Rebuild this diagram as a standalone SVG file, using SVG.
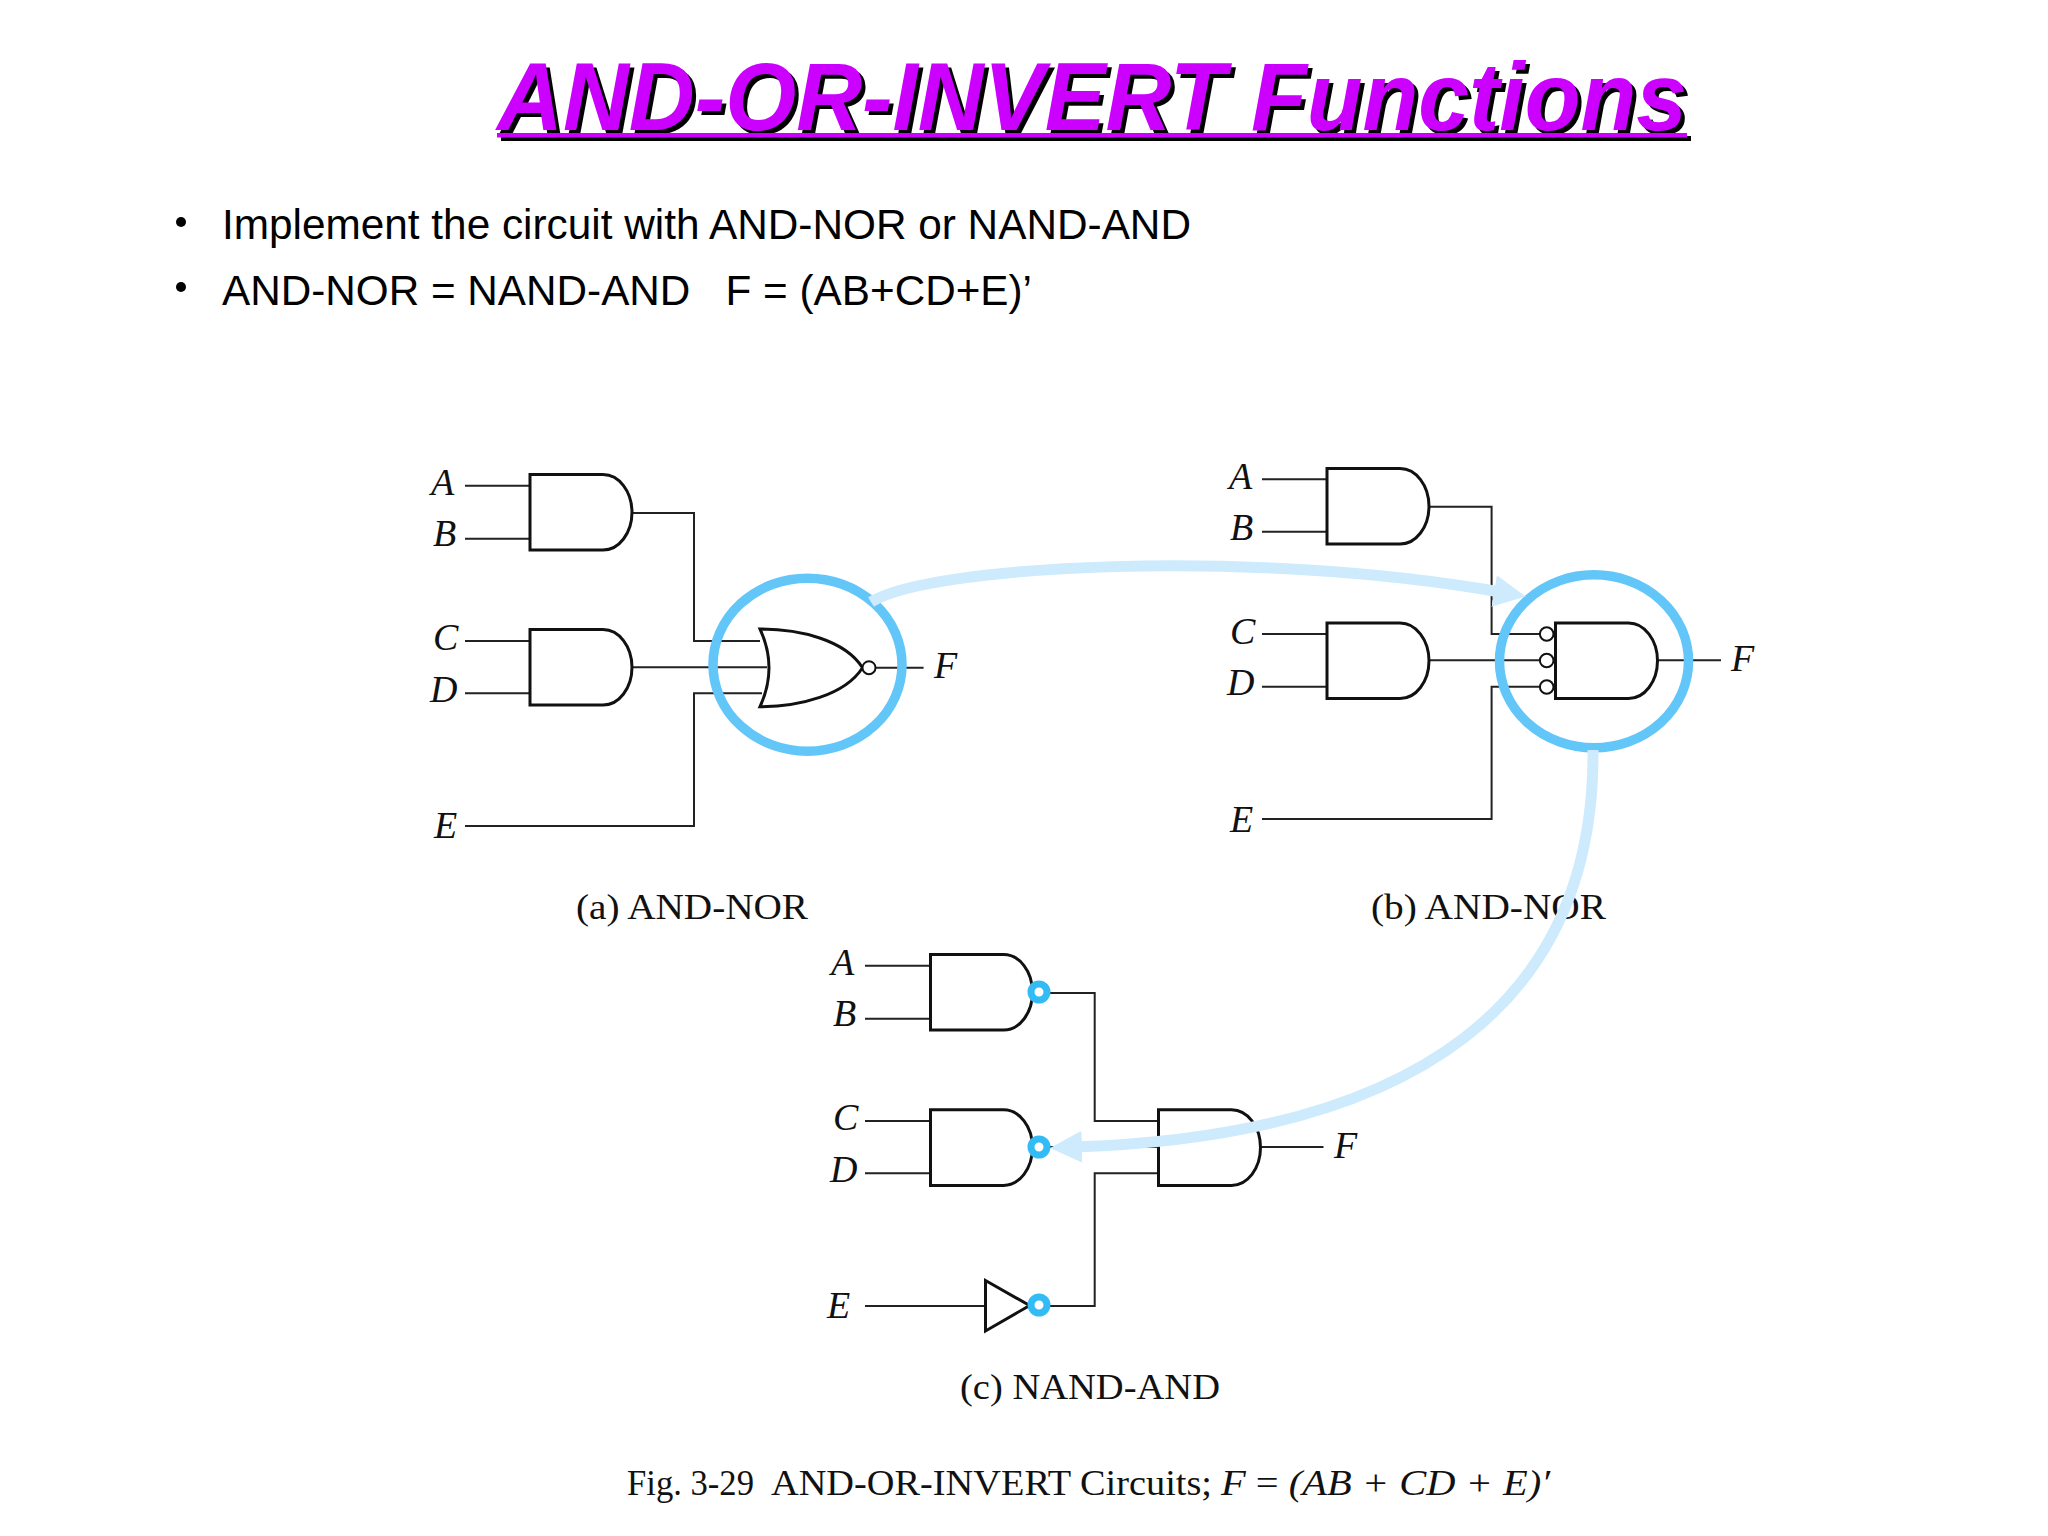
<svg xmlns="http://www.w3.org/2000/svg" width="2048" height="1536" viewBox="0 0 2048 1536">
<style>
.title{font-family:"Liberation Sans",Arial,sans-serif;font-size:96px;font-weight:bold;font-style:italic}
.body{font-family:"Liberation Sans",Arial,sans-serif;font-size:42px;fill:#000;white-space:pre}
.lbl{font-family:"Liberation Serif","Times New Roman",serif;font-size:38px;font-style:italic;fill:#111}
.cap{font-family:"Liberation Serif","Times New Roman",serif;font-size:36px;fill:#111;white-space:pre}
.w{fill:none;stroke:#222;stroke-width:2}
.g{fill:none;stroke:#111;stroke-width:3;stroke-linejoin:miter}
.b{fill:#fff;stroke:#111;stroke-width:2}
.nb{fill:#fff;stroke:#33bbf5;stroke-width:7}
.ring{fill:none;stroke:#62c6f9;stroke-width:9.5}
.arr{fill:none;stroke:#cdebfd;stroke-width:11}
</style>
<defs>
<path id="and" class="g" d="M0 0H73A29 37.8 0 0 1 73 75.6H0Z"/>
<marker id="head" markerUnits="userSpaceOnUse" markerWidth="36" markerHeight="36" refX="6" refY="18" orient="auto"><path d="M0 2L32 18L0 34Z" fill="#cdebfd"/></marker>
</defs>
<rect width="2048" height="1536" fill="#fff"/>
<g id="title">
<text class="title" x="501" y="133.500" fill="#000" textLength="1190" lengthAdjust="spacingAndGlyphs">AND-OR-INVERT Functions</text>
<rect x="501" y="136" width="1190" height="5" fill="#000"/>
<text class="title" x="497" y="130" fill="#cc00ff" textLength="1190" lengthAdjust="spacingAndGlyphs">AND-OR-INVERT Functions</text>
<rect x="497" y="133" width="1190" height="4.500" fill="#cc00ff"/>
</g>
<g id="bullets">
<circle cx="181" cy="222" r="5"/>
<text class="body" x="222" y="239" textLength="969" lengthAdjust="spacingAndGlyphs">Implement the circuit with AND-NOR or NAND-AND</text>
<circle cx="181" cy="287" r="5"/>
<text class="body" x="222" y="305" textLength="810" lengthAdjust="spacingAndGlyphs">AND-NOR = NAND-AND   F = (AB+CD+E)’</text>
</g>
<g id="connectors">
<path class="w" d="M465 485.700H530M465 538.700H530M632 513H694V641H760M465 641H530M465 693.300H530M632 667.300H767M465 826H694V693.300H762M876 667.700H923.600"/>
<path class="w" d="M1262 479.300H1327M1262 531.700H1327M1429 506.700H1491.600V634H1540M1262 634H1327M1262 686.700H1327M1429 660.300H1540M1262 819H1491.600V686.700H1540M1657 660.300H1721"/>
<path class="w" d="M865 965.700H930M865 1018.700H930M1050 993H1094.700V1121H1158.500M865 1121H930M865 1173.300H930M1050 1147H1158.500M1050 1306H1094.700V1173.300H1158.500M865 1306H985M1260 1147H1323.500"/>
</g>
<g id="nodes">
<g id="a-and1"><use href="#and" x="530" y="474.500"/></g>
<g id="a-and2"><use href="#and" x="530" y="629.500"/></g>
<g id="a-nor"><path class="g" d="M760 629C800 629 845 640 862.500 667.700C845 695 800 706.700 760 706.700Q778 667.700 760 629Z"/><circle class="b" cx="869" cy="667.700" r="6.500"/></g>
<g id="b-and1"><use href="#and" x="1327" y="468.500"/></g>
<g id="b-and2"><use href="#and" x="1327" y="623"/></g>
<g id="b-and3"><use href="#and" x="1555.500" y="623"/><circle class="b" cx="1546.700" cy="634" r="6.800"/><circle class="b" cx="1546.700" cy="660.500" r="6.800"/><circle class="b" cx="1546.700" cy="687" r="6.800"/></g>
<g id="c-nand1"><use href="#and" x="930.500" y="954.500"/><circle class="nb" cx="1039" cy="992" r="8"/></g>
<g id="c-nand2"><use href="#and" x="930.500" y="1109.800"/><circle class="nb" cx="1039" cy="1147" r="8"/></g>
<g id="c-inv"><path class="g" d="M985.500 1280.500L1029.600 1305.500L985.500 1331Z"/><circle class="nb" cx="1039" cy="1305" r="8"/></g>
<g id="c-and"><use href="#and" x="1158.500" y="1109.800"/></g>
</g>
<g id="labels">
<text class="lbl" x="431" y="495">A</text><text class="lbl" x="433" y="546">B</text><text class="lbl" x="433" y="650">C</text><text class="lbl" x="430" y="702">D</text><text class="lbl" x="434" y="838">E</text><text class="lbl" x="934" y="678">F</text>
<text class="lbl" x="1229" y="489">A</text><text class="lbl" x="1230" y="540">B</text><text class="lbl" x="1230" y="644">C</text><text class="lbl" x="1227" y="695">D</text><text class="lbl" x="1230" y="832">E</text><text class="lbl" x="1731" y="671">F</text>
<text class="lbl" x="831" y="975">A</text><text class="lbl" x="833" y="1026">B</text><text class="lbl" x="833" y="1130">C</text><text class="lbl" x="830" y="1182">D</text><text class="lbl" x="827" y="1318">E</text><text class="lbl" x="1334" y="1158">F</text>
<text class="cap" x="576" y="919" textLength="232" lengthAdjust="spacingAndGlyphs">(a) AND-NOR</text>
<text class="cap" x="1371" y="919" textLength="235" lengthAdjust="spacingAndGlyphs">(b) AND-NOR</text>
<text class="cap" x="960" y="1399" textLength="260" lengthAdjust="spacingAndGlyphs">(c) NAND-AND</text>
<text class="cap" x="627" y="1495" textLength="127" lengthAdjust="spacingAndGlyphs">Fig. 3-29</text>
<text class="cap" x="771" y="1495" textLength="441" lengthAdjust="spacingAndGlyphs">AND-OR-INVERT Circuits;</text>
<text class="cap" x="1221" y="1495" textLength="329" lengthAdjust="spacingAndGlyphs"><tspan font-style="italic">F</tspan> = <tspan font-style="italic">(AB + CD + E)′</tspan></text>
</g>
<g id="highlights">
<ellipse class="ring" cx="807.500" cy="664.700" rx="94.500" ry="86.500"/>
<ellipse class="ring" cx="1594" cy="661.300" rx="94.500" ry="86.500"/>
<path class="arr" marker-end="url(#head)" d="M871 602C930 565 1250 548 1500 592"/>
<path class="arr" marker-end="url(#head)" d="M1593 750C1595 1000 1420 1135 1076 1147"/>
</g>
</svg>
